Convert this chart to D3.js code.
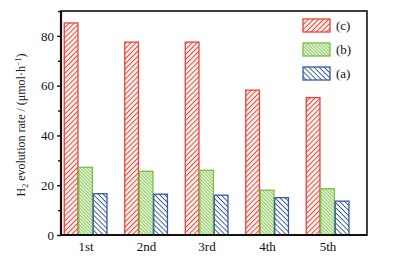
<!DOCTYPE html>
<html>
<head>
<meta charset="utf-8">
<script src="https://cdn.jsdelivr.net/npm/d3@7"></script>
<style>
body{margin:0;background:#fff}
text{font-family:"Liberation Serif","DejaVu Serif",serif}
</style>
</head>
<body>
<div class="chart"></div>
<script>
var runs = ["1st","2nd","3rd","4th","5th"]
var seriesNames = ["(c)","(b)","(a)"]
var valuesC = [85.2,77.5,77.5,58.2,55.2]
var valuesB = [27.2,25.6,26,18,18.6]
var valuesA = [16.6,16.4,16,15,13.6]
var yTicks = [0,20,40,60,80]

var width = 409, height = 263
var svg = d3.select(".chart").append("svg").attr("width",width).attr("height",height)

var frame = {left:61,top:11,right:367,bottom:235}

//patterns
var defs = svg.append("defs")
function hatch(id,color,bg,dir,gap,lw){
	var p = defs.append("pattern").attr("id",id).attr("patternUnits","userSpaceOnUse")
		.attr("width",gap).attr("height",gap)
		.attr("patternTransform","rotate("+(dir>0?45:-45)+")")
	p.append("rect").attr("width",gap).attr("height",gap).attr("fill",bg)
	p.append("line").attr("x1",0).attr("y1",0).attr("x2",0).attr("y2",gap)
		.attr("stroke",color).attr("stroke-width",lw)
}
hatch("hc","#ec3f3a","#fff0ea",1,3.6,1.8)
hatch("hb","#78c04a","#dcefc8",-1,2.4,1.2)
hatch("ha","#2f55a6","#ffffff",-1,3.6,1.8)

var colors = {"(c)":"#e8403b","(b)":"#77bf4a","(a)":"#3558a6"}
var fills = {"(c)":"url(#hc)","(b)":"url(#hb)","(a)":"url(#ha)"}
var data = {"(c)":valuesC,"(b)":valuesB,"(a)":valuesA}

//scales
var x = d3.scaleBand().domain(runs).range([55.75,358.25])
var xs = d3.scaleBand().domain(seriesNames).range([0,43.5])
var y = d3.scaleLinear().domain([0,90]).range([frame.bottom,frame.top])

//bars
seriesNames.forEach(function(s){
	svg.append("g").attr("class","values").selectAll("rect").data(data[s]).enter().append("rect")
	.attr("x",function(d,i){return x(runs[i]) + x.bandwidth()/2 - 21.75 + xs(s)})
	.attr("y",function(d){return y(d)})
	.attr("width",xs.bandwidth()-0.8)
	.attr("height",function(d){return y(0)-y(d)})
	.attr("fill",fills[s])
	.attr("stroke",colors[s])
	.attr("stroke-width",1.3)
})

//frame
svg.append("rect").attr("x",frame.left).attr("y",frame.top)
	.attr("width",frame.right-frame.left).attr("height",frame.bottom-frame.top)
	.attr("fill","none").attr("stroke","#111").attr("stroke-width",1.6)

//axes
var yAxis = svg.append("g").attr("transform","translate("+frame.left+",0)")
	.call(d3.axisLeft(y).tickValues(yTicks).tickSize(4).tickPadding(3))
yAxis.append("g").call(d3.axisLeft(y).tickValues([10,30,50,70,90]).tickSize(3).tickFormat(""))
yAxis.selectAll(".domain").remove()
yAxis.selectAll("line").attr("stroke","#111").attr("stroke-width",1.4)
yAxis.selectAll("text").style("font-size","13px").attr("fill","#111")
svg.append("line").attr("x1",frame.left).attr("x2",frame.left).attr("y1",frame.top).attr("y2",frame.bottom+1)
	.attr("stroke","#111").attr("stroke-width",2.2)
svg.append("line").attr("x1",frame.left-1).attr("x2",frame.right).attr("y1",frame.bottom).attr("y2",frame.bottom)
	.attr("stroke","#111").attr("stroke-width",2.2)

svg.append("g").selectAll("text").data(runs).enter().append("text")
	.attr("x",function(d){return x(d)+x.bandwidth()/2})
	.attr("y",frame.bottom+16)
	.attr("text-anchor","middle")
	.style("font-size","13px").attr("fill","#111")
	.text(function(d){return d})

//y label
var yl = svg.append("text").attr("transform","translate(25,"+((frame.top+frame.bottom)/2+2)+") rotate(-90)")
	.attr("text-anchor","middle").style("font-size","12px").attr("fill","#222")
yl.append("tspan").text("H")
yl.append("tspan").text("2").style("font-size","8px").attr("dy",3)
yl.append("tspan").text(" evolution rate / (μmol·h").attr("dy",-3)
yl.append("tspan").text("−1").style("font-size","8px").attr("dy",-4)
yl.append("tspan").text(")").attr("dy",4)

//legend
var legend = svg.append("g").attr("class","legend")
seriesNames.forEach(function(s,i){
	var g = legend.append("g").attr("transform","translate(303,"+(19+i*24)+")")
	g.append("rect").attr("width",27).attr("height",13).attr("fill",fills[s]).attr("stroke",colors[s]).attr("stroke-width",1.3)
	g.append("text").attr("x",33).attr("y",11).style("font-size","13px").attr("fill","#111").text(s)
})
</script>
</body>
</html>
